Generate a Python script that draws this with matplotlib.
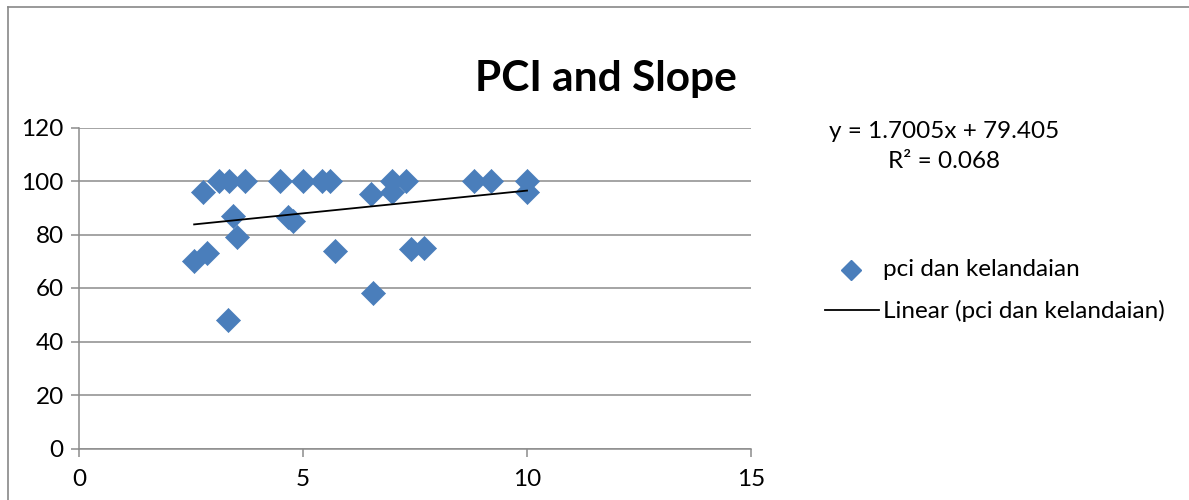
import matplotlib
matplotlib.use("Agg")
import matplotlib.pyplot as plt
from matplotlib.lines import Line2D
import numpy as np

# slope (x) vs PCI (y)
slope = [2.57, 2.85, 2.77, 3.13, 3.35, 3.70, 3.44, 3.52, 3.32,
         4.49, 4.67, 4.78, 5.00, 5.42, 5.60, 5.71, 6.52, 6.56,
         6.98, 6.98, 7.30, 7.40, 7.70, 8.82, 9.19, 10.00, 10.00]
pci = [70, 73, 96, 100, 100, 100, 87, 79, 48,
       100, 86.5, 85, 100, 100, 100, 74, 95, 58,
       100, 96, 100, 74.5, 75, 100, 100, 100, 96]

# trendline coefficients as printed on the chart
trend_slope = 1.7005
trend_intercept = 79.405
trend_r2 = 0.068

x_ticks = [0, 5, 10, 15]
y_ticks = [0, 20, 40, 60, 80, 100, 120]

plt.rcParams["font.family"] = ["Lato", "DejaVu Sans"]
FS = 17.5

W, H = 1189, 500
fig = plt.figure(figsize=(W / 100, H / 100), dpi=100)
fig.patch.set_facecolor("white")

# chart frame (left + top edges only visible)
fig.add_artist(Line2D([8 / W, 8 / W], [0, 1 - 7 / H], color="#888888", lw=1.2))
fig.add_artist(Line2D([8 / W, 1], [1 - 7 / H, 1 - 7 / H], color="#888888", lw=1.2))

ax = fig.add_axes([79 / W, 1 - 448.5 / H, (751 - 79) / W, (448.5 - 127.5) / H])
ax.set_xlim(0, 15)
ax.set_ylim(0, 120)
ax.set_xticks(x_ticks)
ax.set_yticks(y_ticks)
ax.yaxis.grid(True, color="#8c8c8c", lw=1.1)
ax.set_axisbelow(True)
for s in ["top", "right"]:
    ax.spines[s].set_visible(False)
for s in ["left", "bottom"]:
    ax.spines[s].set_color("#8c8c8c")
    ax.spines[s].set_linewidth(1.1)
ax.tick_params(axis="both", colors="#8c8c8c", length=6, width=1.1,
               labelcolor="black", labelsize=FS)
ax.tick_params(axis="y", pad=5)
ax.tick_params(axis="x", pad=9)

ax.scatter(slope, pci, marker="D", s=150, color="#4a7ebb", edgecolors="#4a7ebb",
           linewidths=0.5, zorder=3, clip_on=False)

xs = np.array([min(slope), max(slope)])
ax.plot(xs, trend_slope * xs + trend_intercept, color="black", lw=1.3, zorder=4)

fig.text(606 / W, 1 - 79 / H, "PCI and Slope", ha="center", va="center",
         fontsize=30.5, fontweight="bold")

fig.text(944 / W, 1 - 131 / H, f"y = {trend_slope}x + {trend_intercept}",
         ha="center", va="center", fontsize=FS)
fig.text(944 / W, 1 - 161 / H, f"R² = {trend_r2}",
         ha="center", va="center", fontsize=FS)

# legend drawn by hand to match the layout
fig.add_artist(Line2D([851 / W], [1 - 270 / H], marker="D", markersize=10,
                      color="#4a7ebb", lw=0))
fig.text(883 / W, 1 - 269 / H, "pci dan kelandaian", ha="left", va="center",
         fontsize=FS)
fig.add_artist(Line2D([825 / W, 879 / W], [1 - 310 / H, 1 - 310 / H],
                      color="black", lw=1.3))
fig.text(883 / W, 1 - 311 / H, "Linear (pci dan kelandaian)", ha="left",
         va="center", fontsize=FS)

fig.savefig("out.png", dpi=100, facecolor="white")
